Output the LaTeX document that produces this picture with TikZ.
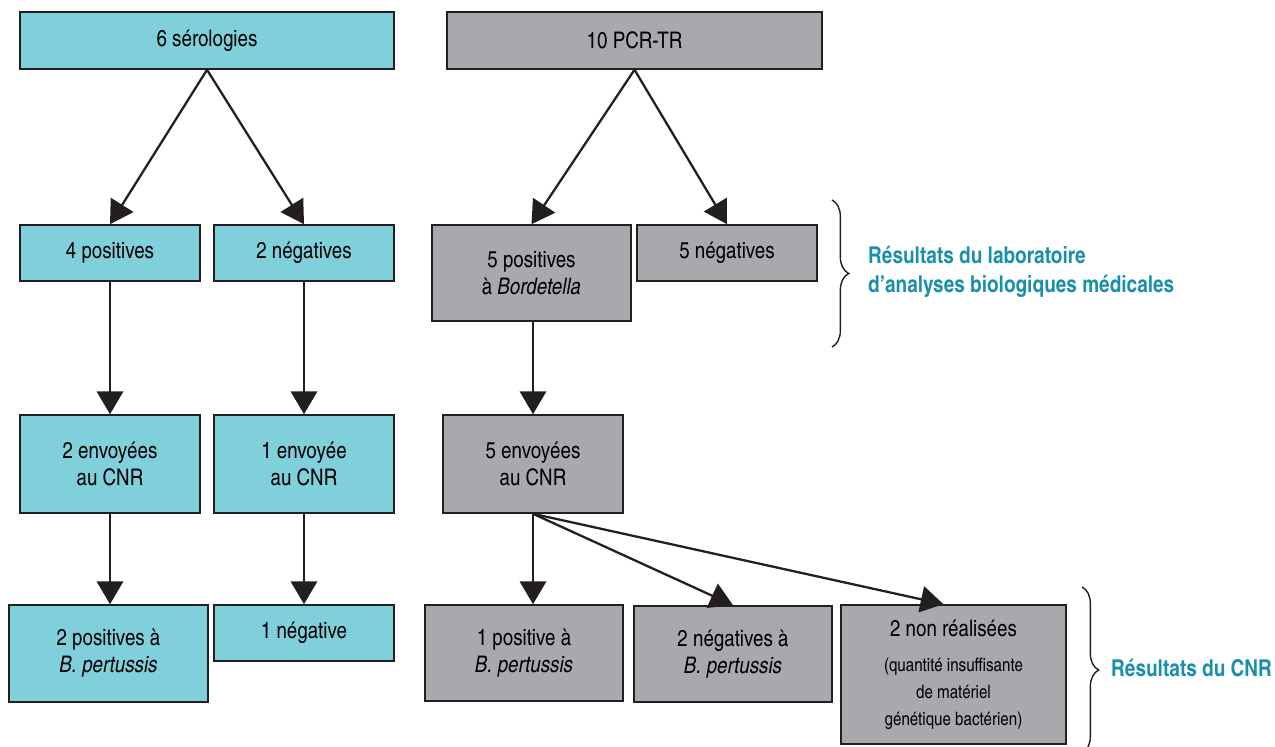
\documentclass[tikz,border=0pt]{standalone}
\usepackage{fontspec}
\setmainfont{texgyreheroscn}[Extension=.otf, UprightFont=*-regular, BoldFont=*-bold, ItalicFont=*-italic, BoldItalicFont=*-bolditalic]
\usetikzlibrary{arrows.meta,decorations.pathreplacing}
\definecolor{serocyan}{HTML}{80D0DC}
\definecolor{pcrgrey}{HTML}{A7A9AC}
\definecolor{boxline}{HTML}{231F20}
\definecolor{labelteal}{HTML}{1A8FAB}
\newcommand{\petit}{\fontsize{10.5}{12.5}\selectfont}

\begin{document}
\begin{tikzpicture}[x=0.02cm, y=-0.02cm,
    box/.style={draw=boxline, line width=0.9pt, inner sep=0pt, align=center,
      font=\fontsize{13}{15.3}\selectfont, minimum width=3.6cm, minimum height=1.12cm},
    sero/.style={box, fill=serocyan},
    pcr/.style={box, fill=pcrgrey},
    flow/.style={draw=boxline, line width=1.3pt, -{Triangle[length=13pt,width=15pt]}},
    accolade/.style={draw=boxline, line width=0.8pt, decorate, decoration={brace, amplitude=9.5pt}},
    result/.style={text=labelteal, anchor=west, align=left,
      font=\bfseries\fontsize{13.2}{16.4}\selectfont}]
  \useasboundingbox (0,0) rectangle (1275,747);
  % serologies
  \node[sero, minimum width=7.48cm, minimum height=1.14cm] (sero) at (207, 40.5) {6 sérologies};
  \node[sero] (spos) at (110, 253) {4 positives};
  \node[sero] (sneg) at (304, 253) {2 négatives};
  \node[sero, minimum height=1.96cm] (senv2) at (110, 464) {2 envoyées\\au CNR};
  \node[sero, minimum height=1.96cm] (senv1) at (304, 464) {1 envoyée\\au CNR};
  \node[sero, minimum width=3.98cm, minimum height=1.94cm] (spos2) at (108.5, 653.5) {2 positives à\\\textit{B. pertussis}};
  \node[sero] (sneg1) at (304, 633) {1 négative};
  % PCR
  \node[pcr, minimum width=7.5cm, minimum height=1.14cm] (pcr) at (634.5, 40.5) {10 PCR-TR};
  \node[pcr, minimum width=3.98cm, minimum height=1.92cm] (ppos) at (531.5, 273) {5 positives\\à \textit{Bordetella}};
  \node[pcr] (pneg) at (727, 253) {5 négatives};
  \node[pcr, minimum height=1.96cm] (penv) at (533, 464) {5 envoyées\\au CNR};
  \node[pcr, minimum width=3.96cm, minimum height=1.92cm] (ppos1) at (524, 653) {1 positive à\\\textit{B. pertussis}};
  \node[pcr, minimum width=3.96cm, minimum height=1.92cm] (pneg2) at (733, 654) {2 négatives à\\\textit{B. pertussis}};
  \node[pcr, minimum width=4.5cm, minimum height=2.78cm] (pnr) at (953.5, 674.5)
    {2 non réalisées\\[4.5pt]\petit (quantité insuffisante\\\petit de matériel\\\petit génétique bactérien)};

  \draw[flow] (sero.south) -- (spos.north);
  \draw[flow] (sero.south) -- (sneg.north);
  \draw[flow] (spos) -- (senv2);
  \draw[flow] (sneg) -- (senv1);
  \draw[flow] (senv2) -- (senv2.south |- spos2.north);
  \draw[flow] (senv1) -- (sneg1);
  \draw[flow] (pcr.south) -- (ppos.north);
  \draw[flow] (pcr.south) -- (pneg.north);
  \draw[flow] (ppos.south -| penv.north) -- (penv.north);
  \draw[flow] (penv.south) -- (penv.south |- ppos1.north);
  \draw[flow] (penv.south) -- (pneg2.north);
  \draw[flow] (penv.south) -- ([xshift=-0.2cm]pnr.north);

  % braces
  \draw[accolade] (832, 200) -- (832, 347);
  \node[result] (labo) at (862, 272) {Résultats du laboratoire\\d’analyses biologiques médicales};
  \draw[accolade] (1082, 587) -- (1082, 753);
  \node[result] (cnr) at (1105, 668) {Résultats du CNR};
\end{tikzpicture}
\end{document}
